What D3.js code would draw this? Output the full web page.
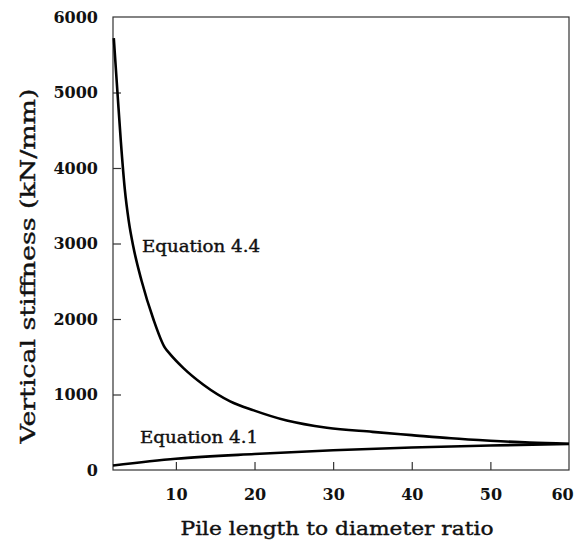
<!DOCTYPE html>
<html>
<head>
<meta charset="utf-8">
<script src="https://cdn.jsdelivr.net/npm/d3@7"></script>
<style>
  body { margin: 0; background: #fff; }
  text { font-family: "DejaVu Serif", serif; fill: #111; }
</style>
</head>
<body>
<div id="chart"></div>
<script>
// values
const ratioEq44 = [2.1, 2.6, 3.0, 3.5, 4.0, 4.6, 5.65, 7.13, 8.6, 9.26, 10.96, 13.5, 16.9, 19.9, 24.1, 29.2, 35, 40, 45, 50, 55, 60];
const stiffEq44 = [5720, 4950, 4350, 3720, 3300, 2950, 2500, 2000, 1620, 1535, 1350, 1130, 910, 790, 655, 560, 505, 462, 420, 388, 362, 347];
const ratioEq41 = [2, 10, 20, 30, 40, 50, 60];
const stiffEq41 = [60, 148, 212, 262, 298, 325, 344];
const xTicks = [10, 20, 30, 40, 50, 60];
const yTicks = [0, 1000, 2000, 3000, 4000, 5000, 6000];

const width = 576, height = 555;
const plot = {left: 113, right: 569, top: 17, bottom: 470};

const svg = d3.select("#chart").append("svg")
  .attr("width", width)
  .attr("height", height);

const x = d3.scaleLinear().domain([2, 60]).range([plot.left, plot.right]);
const y = d3.scaleLinear().domain([0, 6000]).range([plot.bottom, plot.top]);

// frame
svg.append("rect")
  .attr("x", plot.left).attr("y", plot.top)
  .attr("width", plot.right - plot.left).attr("height", plot.bottom - plot.top)
  .attr("fill", "none")
  .attr("stroke", "#333")
  .attr("stroke-width", 1.2);

const xAxis = svg.append("g")
  .attr("transform", "translate(0," + plot.bottom + ")")
  .call(d3.axisBottom(x).tickValues(xTicks).tickFormat(d3.format("d"))
    .tickSizeInner(-8).tickSizeOuter(0).tickPadding(19));

const yAxis = svg.append("g")
  .attr("transform", "translate(" + plot.left + ",0)")
  .call(d3.axisLeft(y).tickValues(yTicks).tickFormat(d3.format("d"))
    .tickSizeInner(-8).tickSizeOuter(0).tickPadding(15));

[xAxis, yAxis].forEach(function(g) {
  g.select(".domain").remove();
  g.selectAll("line").attr("stroke", "#333").attr("stroke-width", 1.2);
  g.selectAll("text")
    .style("font-family", "'DejaVu Serif', serif")
    .style("font-size", "16px")
    .style("font-weight", "bold")
    .attr("fill", "#111");
});
// no tick marks on the frame edges
xAxis.selectAll(".tick").filter(function(d) { return d === 60; }).select("line").remove();
// last label sits on the page edge, pull it in a little
xAxis.selectAll(".tick").filter(function(d) { return d === 60; }).select("text").attr("dx", "-7");
yAxis.selectAll(".tick").filter(function(d) { return d === 0 || d === 6000; }).select("line").remove();

const line = d3.line()
  .x(function(d) { return x(d[0]); })
  .y(function(d) { return y(d[1]); })
  .curve(d3.curveMonotoneX);

svg.append("path")
  .datum(ratioEq44.map(function(r, i) { return [r, stiffEq44[i]]; }))
  .attr("d", line)
  .attr("fill", "none")
  .attr("stroke", "#000")
  .attr("stroke-width", 2.6);

svg.append("path")
  .datum(ratioEq41.map(function(r, i) { return [r, stiffEq41[i]]; }))
  .attr("d", line)
  .attr("fill", "none")
  .attr("stroke", "#000")
  .attr("stroke-width", 2.6);

// curve labels
svg.append("text")
  .attr("x", 142).attr("y", 252)
  .attr("textLength", 118)
  .attr("lengthAdjust", "spacingAndGlyphs")
  .attr("stroke", "#111").attr("stroke-width", 0.4)
  .style("font-size", "16px")
  .text("Equation 4.4");

svg.append("text")
  .attr("x", 140).attr("y", 443)
  .attr("textLength", 118)
  .attr("lengthAdjust", "spacingAndGlyphs")
  .attr("stroke", "#111").attr("stroke-width", 0.4)
  .style("font-size", "16px")
  .text("Equation 4.1");

// axis titles
svg.append("text")
  .attr("x", 337).attr("y", 535)
  .attr("text-anchor", "middle")
  .attr("textLength", 313)
  .attr("lengthAdjust", "spacingAndGlyphs")
  .attr("stroke", "#111").attr("stroke-width", 0.4)
  .style("font-size", "19px")
  .text("Pile length to diameter ratio");

svg.append("text")
  .attr("transform", "translate(35,266)rotate(-90)")
  .attr("text-anchor", "middle")
  .attr("textLength", 355)
  .attr("lengthAdjust", "spacingAndGlyphs")
  .attr("stroke", "#111").attr("stroke-width", 0.4)
  .style("font-size", "21px")
  .text("Vertical stiffness (kN/mm)");
</script>
</body>
</html>
